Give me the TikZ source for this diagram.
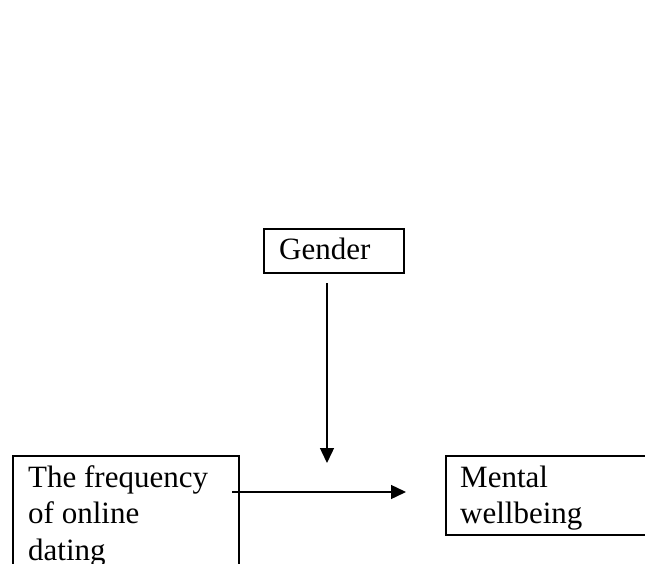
\documentclass[tikz,border=0pt]{standalone}
\usepackage{fontspec}
\setmainfont{Liberation Serif}
\usetikzlibrary{arrows.meta}
\begin{document}
\begin{tikzpicture}[x=1pt,y=-1pt,
  box/.style={draw,line width=2pt,rectangle,inner sep=0pt,anchor=north west},
  lbl/.style={anchor=base west,inner sep=0pt,font=\fontsize{31}{36.5}\selectfont},
  conn/.style={line width=1.4pt,-{Triangle[length=15pt,width=14pt]}}]
\useasboundingbox (0,0) rectangle (645,564);
\clip (0,0) rectangle (645,564);
\node[box,minimum width=140pt,minimum height=44pt] (gbox) at (263,228) {};
\node[lbl] (gtxt) at (279,259) {Gender};
\node[box,minimum width=226pt,minimum height=140pt] (fbox) at (12,455) {};
\node[lbl] (f1) at (28,487) {The frequency};
\node[lbl] (f2) at (28,523) {of online};
\node[lbl] (f3) at (28,560) {dating};
\node[box,minimum width=230pt,minimum height=79pt] (mbox) at (445,455) {};
\node[lbl] (m1) at (460,487) {Mental};
\node[lbl] (m2) at (460,523) {wellbeing};
\coordinate (vs) at (327,283);
\coordinate (ve) at (327,463);
\coordinate (hs) at (232,492);
\coordinate (he) at (406,492);
\draw[conn] (vs) -- (ve);
\draw[conn] (hs) -- (he);
\end{tikzpicture}
\end{document}
